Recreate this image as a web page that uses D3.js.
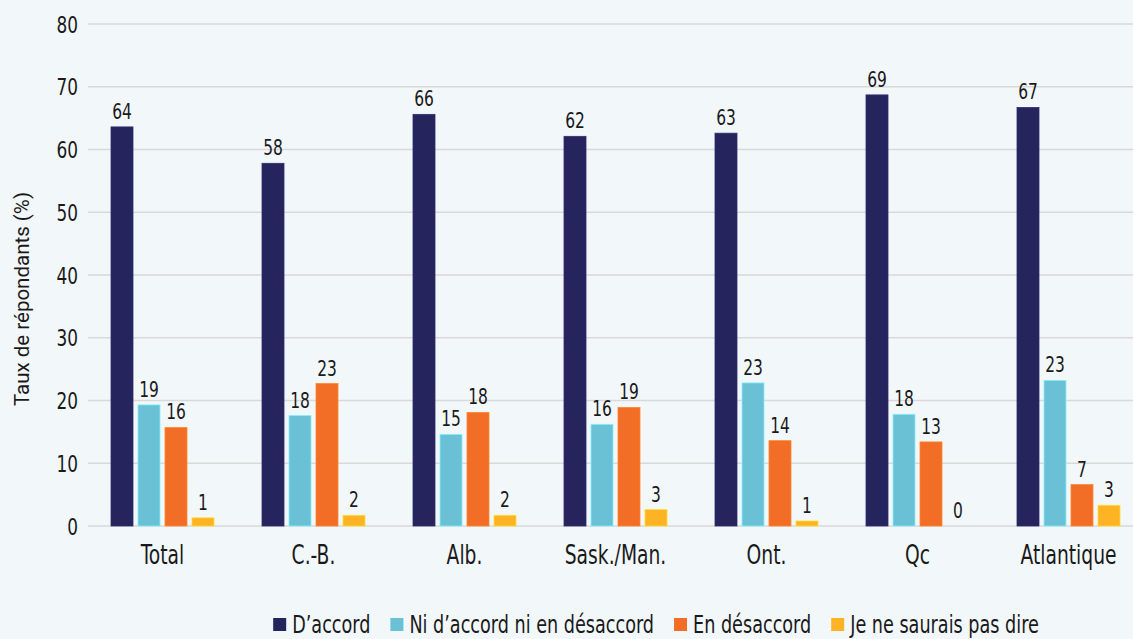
<!DOCTYPE html>
<html>
<head>
<meta charset="utf-8">
<script src="https://cdn.jsdelivr.net/npm/d3@7.9.0/dist/d3.min.js"></script>
<style>
  html, body { margin: 0; padding: 0; background: #f2f7fa; }
  svg { display: block; }
  .cond { font-family: "Liberation Sans Narrow", "DejaVu Sans Condensed", "Roboto", sans-serif; font-stretch: condensed; fill: #1a1a1a; }
</style>
</head>
<body>
<svg id="chart" width="1133" height="639"></svg>
<script>
// Categories (regions) and series
const regions = ['Total', 'C.-B.', 'Alb.', 'Sask./Man.', 'Ont.', 'Qc', 'Atlantique'];
const seriesNames = ['D’accord', 'Ni d’accord ni en désaccord', 'En désaccord', 'Je ne saurais pas dire'];
const seriesColors = ['#26245c', '#6ac1d5', '#f26d26', '#fdb323'];

// Values (% of respondents), one array per series
const agree      = [63.6, 57.8, 65.6, 62.1, 62.6, 68.7, 66.7];
const neutral    = [19.3, 17.6, 14.6, 16.2, 22.8, 17.8, 23.2];
const disagree   = [15.7, 22.7, 18.1, 18.9, 13.6, 13.4, 6.6];
const dontKnow   = [1.3, 1.7, 1.7, 2.6, 0.8, 0, 3.3];

const yTicks = [0, 10, 20, 30, 40, 50, 60, 70, 80];

const allSeries = [agree, neutral, disagree, dontKnow];

const width = 1133, height = 639;
const margin = { left: 87, right: -11, top: 24, bottom: 113 };
// squeeze factor to mimic the narrow font of the original
const SQUEEZE = 0.8;

const svg = d3.select('#chart');

// Append a horizontally squeezed text at (x, y)
function condText(parent, x, y, size, anchor, str) {
  return parent.append('text')
    .attr('class', 'cond')
    .attr('transform', `translate(${x},${y}) scale(${SQUEEZE},1)`)
    .attr('text-anchor', anchor)
    .attr('font-size', size)
    .text(str);
}

// Scales
const x0 = d3.scaleBand()
  .domain(regions)
  .range([margin.left, width - margin.right]);

const x1 = d3.scaleBand()
  .domain(d3.range(seriesNames.length))
  .range([0, 103])
  .paddingInner(0.185);

const y = d3.scaleLinear()
  .domain([0, 80])
  .range([height - margin.bottom, margin.top]);

// Gridlines
svg.append('g')
  .selectAll('line')
  .data(yTicks)
  .join('line')
  .attr('x1', 88)
  .attr('x2', width)
  .attr('y1', d => y(d))
  .attr('y2', d => y(d))
  .attr('stroke', '#d9d9d9')
  .attr('stroke-width', 1.3);

// Y tick labels
const yLabels = svg.append('g');
yTicks.forEach(t => condText(yLabels, 78, y(t) + 8.5, 23.5, 'end', t));

// Y axis title
svg.append('text')
  .attr('transform', `translate(29, 299) rotate(-90)`)
  .attr('text-anchor', 'middle')
  .attr('font-family', 'Roboto, sans-serif')
  .attr('font-size', 20.5)
  .attr('fill', '#1a1a1a')
  .text('Taux de répondants (%)');

// Bars and value labels
const groups = svg.append('g')
  .selectAll('g')
  .data(regions)
  .join('g')
  .attr('transform', d => `translate(${x0(d) + (x0.bandwidth() - 103) / 2},0)`);

groups.each(function (region, ri) {
  const g = d3.select(this);
  allSeries.forEach((vals, si) => {
    const v = vals[ri];
    if (v > 0) {
      g.append('rect')
        .attr('x', x1(si))
        .attr('y', y(v))
        .attr('width', x1.bandwidth())
        .attr('height', y(0) - y(v))
        .attr('fill', seriesColors[si])
        .attr('stroke', d3.color(seriesColors[si]).brighter(0.6))
        .attr('stroke-width', 0.8);
    }
    condText(g, x1(si) + x1.bandwidth() / 2, y(v) - 8, 21.5, 'middle', d3.format('.0f')(v));
  });
});

// Category labels
const catLabels = svg.append('g');
regions.forEach(r => condText(catLabels, x0(r) + x0.bandwidth() / 2, 564, 26, 'middle', r));

// Legend
const legend = svg.append('g');
let lx = 0;
seriesNames.forEach((name, i) => {
  const item = legend.append('g').attr('transform', `translate(${lx},0)`);
  item.append('rect')
    .attr('x', 0).attr('y', -7)
    .attr('width', 13).attr('height', 13)
    .attr('fill', seriesColors[i]);
  const t = condText(item, 19, 8, 24.5, 'start', name);
  lx += 19 + t.node().getComputedTextLength() * SQUEEZE + 20;
});
const legendWidth = lx - 20;
legend.attr('transform', `translate(${656 - legendWidth / 2}, 625)`);
</script>
</body>
</html>
